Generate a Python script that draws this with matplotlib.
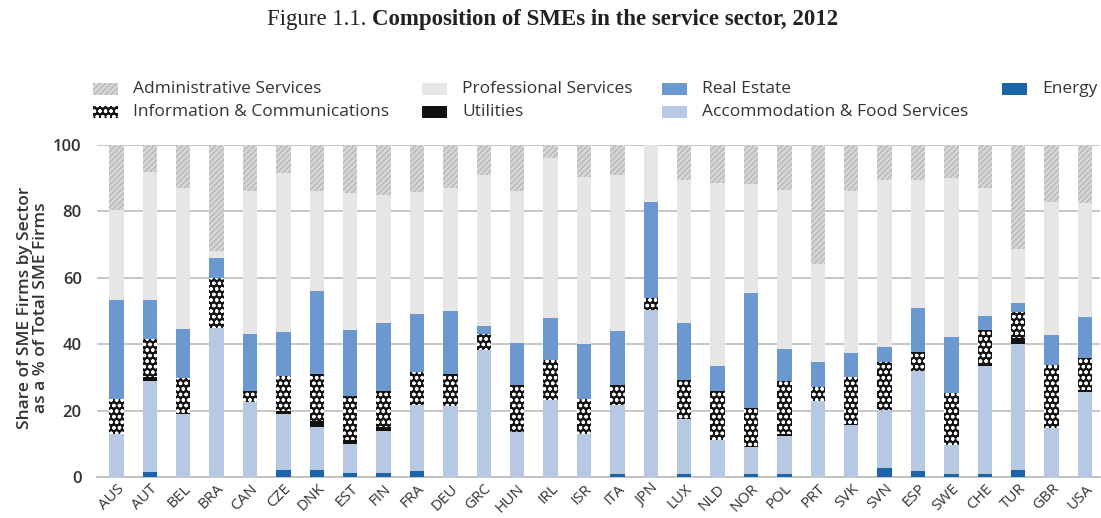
import matplotlib
matplotlib.use("Agg")
import matplotlib.pyplot as plt
from matplotlib.patches import Rectangle
import numpy as np

countries = ["AUS", "AUT", "BEL", "BRA", "CAN", "CZE", "DNK", "EST", "FIN", "FRA",
             "DEU", "GRC", "HUN", "IRL", "ISR", "ITA", "JPN", "LUX", "NLD", "NOR",
             "POL", "PRT", "SVK", "SVN", "ESP", "SWE", "CHE", "TUR", "GBR", "USA"]

energy = [0, 1.5, 0, 0, 0, 2, 2, 1.2, 1.2, 1.8,
          0, 0, 0, 0, 0, 1, 0, 1, 0, 1,
          0.8, 0, 0, 2.8, 1.8, 1, 0.8, 2, 0, 0]
accommodation = [13, 27.5, 19, 45, 22.5, 17, 13, 8.8, 12.8, 19.8,
                 21.5, 38.2, 13.6, 23.3, 12.9, 20.6, 50.3, 16.6, 11, 8,
                 11.5, 22.9, 15.6, 17.3, 30.2, 8.5, 32.6, 38.2, 14.8, 25.6]
utilities = [0, 1.0, 0, 0, 0, 1, 2, 1, 1, 0,
             0, 0, 0, 0, 0, 0, 0, 0, 0, 0,
             0.7, 0, 0, 0, 0, 0, 0.6, 1.8, 0, 0.7]
info_comm = [10.5, 11.5, 10.7, 15, 3.5, 10.5, 14, 13.5, 10.8, 10.1,
             9.5, 4.8, 14, 11.9, 10.7, 6, 3.5, 11.7, 14.9, 11.9,
             15.9, 4.2, 14.4, 14.4, 5.7, 15.8, 10.2, 7.7, 18.9, 9.4]
real_estate = [29.8, 11.8, 14.8, 6, 17, 13.3, 25, 19.9, 20.6, 17.5,
               19, 2.4, 12.9, 12.8, 16.6, 16.4, 29.1, 17.1, 7.5, 34.6,
               9.6, 7.6, 7.4, 4.7, 13.1, 16.9, 4.2, 2.6, 9, 12.5]
professional = [27.0, 38.7, 42.5, 2, 43, 47.7, 30, 41, 38.5, 36.7,
                36.9, 45.6, 45.5, 48, 50.3, 47, 17.1, 43, 55.2, 32.9,
                47.9, 29.6, 48.6, 50.2, 38.6, 47.8, 38.5, 16.5, 40.2, 34.2]
administrative = [19.7, 8.0, 13, 32, 14, 8.5, 14, 14.6, 15.1, 14.1,
                  13.1, 9, 14, 4, 9.5, 9, 0, 10.6, 11.4, 11.6,
                  13.6, 35.7, 14, 10.6, 10.6, 10, 13.1, 31.2, 17.1, 17.6]

yticks = [0, 20, 40, 60, 80, 100]

plt.rcParams["hatch.linewidth"] = 0.9

W, H = 1101, 518
fig = plt.figure(figsize=(W / 100, H / 100), dpi=100)
ax = fig.add_axes([97 / W, 1 - 477 / H, (1100 - 97) / W, (477 - 145) / H])

series = [
    ("Energy", energy, dict(color="#1b64a8")),
    ("Accommodation & Food Services", accommodation, dict(color="#b7c8e2")),
    ("Utilities", utilities, dict(color="#111111")),
    ("Information & Communications", info_comm, dict(facecolor="#141414", edgecolor="white", hatch="ooo")),
    ("Real Estate", real_estate, dict(color="#6b98cf")),
    ("Professional Services", professional, dict(color="#e6e6e6")),
    ("Administrative Services", administrative, dict(facecolor="#d6d6d6", edgecolor="#b5b5b5", hatch="//////")),
]

x = np.arange(len(countries))
bottom = np.zeros(len(countries))
for name, vals, style in series:
    vals = np.array(vals, dtype=float)
    ax.bar(x, vals, width=0.43, bottom=bottom, linewidth=0, zorder=3, **style)
    bottom += vals

ax.set_xlim(-0.58, len(countries) - 1 + 0.45)
ax.set_ylim(0, 100)
ax.set_yticks(yticks)
ax.set_yticklabels([str(v) for v in yticks], fontsize=12, fontweight="semibold",
                   color="#333333", family="Open Sans")
ax.yaxis.grid(True, color="#bcbcbc", linewidth=1.2, zorder=0)
ax.tick_params(axis="y", length=0, pad=11)
ax.set_xticks(x)
ax.set_xticklabels(countries, rotation=45, ha="right", rotation_mode="anchor",
                   fontsize=11, color="#333333", family="Open Sans")
ax.tick_params(axis="x", length=0, pad=3)
for s in ["top", "right", "left"]:
    ax.spines[s].set_visible(False)
ax.spines["bottom"].set_color("#bcbcbc")
ax.spines["bottom"].set_linewidth(1.2)
ax.set_axisbelow(True)

fig.text(33 / W, 1 - 308 / H, "Share of SME Firms by Sector\nas a % of Total SME Firms",
         rotation=90, ha="center", va="center", fontsize=12.5, fontweight="semibold",
         color="#333333", family="Open Sans", linespacing=1.0)

# Title
fig.text(366 / W, 1 - 20 / H, "Figure 1.1.", ha="right", va="center",
         fontsize=16.5, family="Liberation Serif", color="#222222")
fig.text(372 / W, 1 - 20 / H, "Composition of SMEs in the service sector, 2012",
         ha="left", va="center", fontsize=16.5, fontweight="bold",
         family="Liberation Serif", color="#222222")

# Legend (manual placement)
legend_layout = [
    ("Administrative Services", 93, 89),
    ("Information & Communications", 93, 112),
    ("Professional Services", 422, 89),
    ("Utilities", 422, 112),
    ("Real Estate", 662, 89),
    ("Accommodation & Food Services", 662, 112),
    ("Energy", 1002, 89),
]
styles = {name: style for name, _, style in series}
for name, px, py in legend_layout:
    st = dict(styles[name])
    if "color" in st:
        st = dict(facecolor=st["color"], edgecolor=st["color"])
    r = Rectangle((px / W, 1 - (py + 6) / H), 25 / W, 12 / H, transform=fig.transFigure,
                  linewidth=0, **st)
    fig.add_artist(r)
    fig.text((px + 40) / W, 1 - py / H, name, ha="left", va="center", fontsize=12.5,
             color="#333333", family="Open Sans")

fig.savefig("out.png", dpi=100)
